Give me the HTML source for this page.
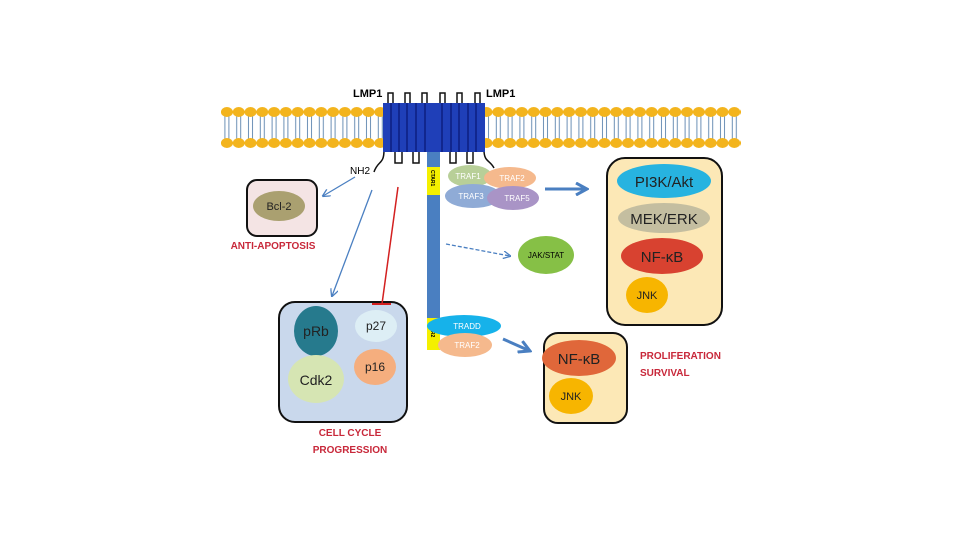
<!DOCTYPE html><html><head><meta charset="utf-8"><style>body{margin:0;background:#fff}svg{display:block}text{font-family:"Liberation Sans",sans-serif}</style></head><body>
<svg width="960" height="540" viewBox="0 0 960 540" xmlns="http://www.w3.org/2000/svg">
<defs><marker id="a" markerWidth="8" markerHeight="8" refX="7" refY="4" orient="auto" markerUnits="userSpaceOnUse"><path d="M0,0 L8,4 L0,8" fill="none" stroke="#4a7fc1" stroke-width="1.3"/></marker>
<marker id="b" markerWidth="14" markerHeight="14" refX="12" refY="7" orient="auto" markerUnits="userSpaceOnUse"><path d="M1,1 L12,7 L1,13" fill="none" stroke="#4a7fc1" stroke-width="3"/></marker>
<pattern id="lip" x="221" y="105" width="11.8" height="44" patternUnits="userSpaceOnUse">
<line x1="3.9" y1="7" x2="3.9" y2="38" stroke="#6b8fb5" stroke-width="1"/>
<line x1="7.9" y1="7" x2="7.9" y2="38" stroke="#6b8fb5" stroke-width="1"/>
<ellipse cx="5.9" cy="7" rx="6" ry="5" fill="#f3b41d"/>
<ellipse cx="5.9" cy="38" rx="6" ry="5" fill="#f3b41d"/>
</pattern></defs>
<rect x="221" y="105" width="520" height="44" fill="url(#lip)"/>
<g fill="none" stroke="#111" stroke-width="1.5">
<path d="M388,103 V93 H393 V103 M405,103 V93 H410 V103 M422,103 V93 H427 V103 M440,103 V93 H445 V103 M457,103 V93 H462 V103 M475,103 V93 H480 V103"/>
<path d="M395,152 V163 H402 V152 M413,152 V163 H419 V152 M450,152 V163 H456 V152 M467,152 V163 H473 V152"/>
<path d="M384,150 C384,165 378,160 374,172"/>
<path d="M484,150 C484,162 490,160 494,168"/>
</g>
<rect x="383" y="103" width="102" height="49" fill="#1f3fb8"/>
<g stroke="#0d1f80" stroke-width="1.5"><line x1="391" y1="103" x2="391" y2="152"/><line x1="399" y1="103" x2="399" y2="152"/><line x1="407" y1="103" x2="407" y2="152"/><line x1="416" y1="103" x2="416" y2="152"/><line x1="425" y1="103" x2="425" y2="152"/><line x1="442" y1="103" x2="442" y2="152"/><line x1="451" y1="103" x2="451" y2="152"/><line x1="459" y1="103" x2="459" y2="152"/><line x1="468" y1="103" x2="468" y2="152"/><line x1="476" y1="103" x2="476" y2="152"/></g>
<text x="353" y="97" font-size="11" font-weight="bold">LMP1</text>
<text x="486" y="97" font-size="11" font-weight="bold">LMP1</text>
<text x="350" y="174" font-size="10">NH2</text>
<rect x="427" y="152" width="13" height="198" fill="#4a7fc1"/>
<rect x="427" y="167" width="13" height="28" fill="#f4f000"/>
<rect x="427" y="318" width="13" height="32" fill="#f4f000"/>
<text x="0" y="0" font-size="5" font-weight="bold" transform="translate(431,170) rotate(90)">CTAR1</text>
<text x="0" y="0" font-size="5" font-weight="bold" transform="translate(431,321) rotate(90)">CTAR2</text>
<g font-size="8" fill="#fff" text-anchor="middle">
<ellipse cx="470" cy="176" rx="22" ry="11" fill="#b8cf98"/><text x="468" y="179">TRAF1</text>
<ellipse cx="510" cy="178" rx="26" ry="11" fill="#f5b98d"/><text x="512" y="181">TRAF2</text>
<ellipse cx="473" cy="196" rx="28" ry="12" fill="#8fabd6"/><text x="471" y="199">TRAF3</text>
<ellipse cx="513" cy="198" rx="26" ry="12" fill="#a994c6"/><text x="517" y="201">TRAF5</text>
<ellipse cx="464" cy="326" rx="37" ry="11" fill="#16b2ea"/><text x="467" y="329">TRADD</text>
<ellipse cx="465" cy="345" rx="27" ry="12" fill="#f5b98d"/><text x="467" y="348">TRAF2</text>
</g>
<line x1="545" y1="189" x2="587" y2="189" stroke="#4a7fc1" stroke-width="3" marker-end="url(#b)"/>
<line x1="503" y1="339" x2="530" y2="351" stroke="#4a7fc1" stroke-width="3" marker-end="url(#b)"/>
<line x1="446" y1="244" x2="510" y2="256" stroke="#4a7fc1" stroke-width="1.3" stroke-dasharray="4,2" marker-end="url(#a)"/>
<ellipse cx="546" cy="255" rx="28" ry="19" fill="#86c046"/><text x="546" y="258" font-size="8" text-anchor="middle">JAK/STAT</text>
<rect x="607" y="158" width="115" height="167" rx="18" fill="#fce8b6" stroke="#111" stroke-width="2"/>
<g text-anchor="middle" fill="#222">
<ellipse cx="664" cy="181" rx="47" ry="17" fill="#27b3e0"/><text x="664" y="187" font-size="15">PI3K/Akt</text>
<ellipse cx="664" cy="218" rx="46" ry="15" fill="#c4bea0"/><text x="664" y="224" font-size="15">MEK/ERK</text>
<ellipse cx="662" cy="256" rx="41" ry="18" fill="#d84230"/><text x="662" y="262" font-size="15">NF-κB</text>
<ellipse cx="647" cy="295" rx="21" ry="18" fill="#f7b500"/><text x="647" y="299" font-size="11">JNK</text>
</g>
<rect x="544" y="333" width="83" height="90" rx="14" fill="#fce8b6" stroke="#111" stroke-width="2"/>
<g text-anchor="middle" fill="#222">
<ellipse cx="579" cy="358" rx="37" ry="18" fill="#e0673a"/><text x="579" y="364" font-size="15">NF-κB</text>
<ellipse cx="571" cy="396" rx="22" ry="18" fill="#f7b500"/><text x="571" y="400" font-size="11">JNK</text>
</g>
<g font-size="10" font-weight="bold" fill="#c8283a"><text x="640" y="359">PROLIFERATION</text><text x="640" y="376">SURVIVAL</text></g>
<rect x="247" y="180" width="70" height="56" rx="10" fill="#f4e4e4" stroke="#111" stroke-width="2"/>
<ellipse cx="279" cy="206" rx="26" ry="15" fill="#aaa070"/><text x="279" y="210" font-size="11" text-anchor="middle" fill="#222">Bcl-2</text>
<text x="273" y="249" font-size="10" font-weight="bold" fill="#c8283a" text-anchor="middle">ANTI-APOPTOSIS</text>
<line x1="355" y1="177" x2="323" y2="196" stroke="#4a7fc1" stroke-width="1.3" marker-end="url(#a)"/>
<line x1="372" y1="190" x2="332" y2="296" stroke="#4a7fc1" stroke-width="1.3" marker-end="url(#a)"/>
<rect x="279" y="302" width="128" height="120" rx="16" fill="#c9d8ec" stroke="#111" stroke-width="2"/>
<line x1="398" y1="187" x2="382" y2="304" stroke="#d32020" stroke-width="1.5"/>
<line x1="372" y1="304" x2="391" y2="304" stroke="#d32020" stroke-width="2"/>
<g text-anchor="middle" fill="#222">
<ellipse cx="316" cy="331" rx="22" ry="25" fill="#267a8d"/><text x="316" y="336" font-size="14">pRb</text>
<ellipse cx="376" cy="326" rx="21" ry="16" fill="#ddeef5"/><text x="376" y="330" font-size="12">p27</text>
<ellipse cx="375" cy="367" rx="21" ry="18" fill="#f5ae7e"/><text x="375" y="371" font-size="12">p16</text>
<ellipse cx="316" cy="379" rx="28" ry="24" fill="#d6e5b3"/><text x="316" y="385" font-size="14">Cdk2</text>
</g>
<g font-size="10" font-weight="bold" fill="#c8283a" text-anchor="middle"><text x="350" y="436">CELL CYCLE</text><text x="350" y="453">PROGRESSION</text></g>
</svg></body></html>
